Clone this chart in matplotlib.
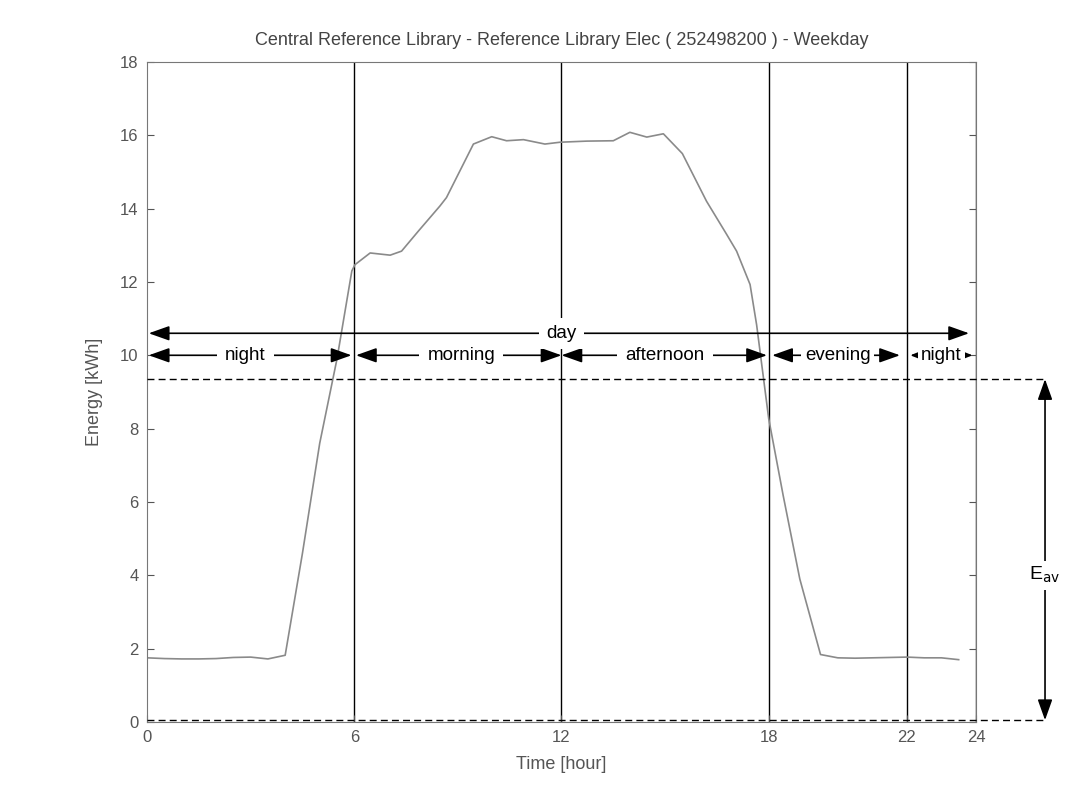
import matplotlib.pyplot as plt

# half-hourly weekday profile
hours = [0, 0.5, 1, 1.5, 2, 2.5, 3, 3.5, 4, 4.5, 5, 5.5, 5.93, 6.02, 6.46, 7.04,
         7.37, 7.86, 8.48, 8.67, 9.45, 9.98, 10.41, 10.9, 11.52, 11.96, 12.73,
         13.5, 13.98, 14.47, 14.95, 15.5, 16.2, 16.78, 17.07, 17.46, 17.65, 18.0,
         18.42, 18.9, 19.5, 20, 20.5, 21, 21.5, 22, 22.5, 23, 23.5]
energy = [1.75, 1.73, 1.72, 1.72, 1.73, 1.76, 1.77, 1.72, 1.82, 4.6, 7.6, 9.9,
          12.3, 12.47, 12.79, 12.73, 12.84, 13.39, 14.07, 14.3, 15.76, 15.96,
          15.85, 15.88, 15.76, 15.81, 15.84, 15.85, 16.08, 15.95, 16.04, 15.5,
          14.2, 13.3, 12.84, 11.93, 10.83, 8.27, 6.17, 3.9, 1.84, 1.75, 1.74,
          1.75, 1.76, 1.77, 1.75, 1.75, 1.7]

E_AV = 9.35
E_ZERO = 0.05
period_edges = [6, 12, 18, 22, 24]
xticks = [0, 6, 12, 18, 22, 24]
yticks = list(range(0, 19, 2))

# (label, start, end, label x)
periods = [("night", 0.05, 5.92, 2.85),
           ("morning", 6.05, 12.0, 9.1),
           ("afternoon", 12.0, 17.95, 15.0),
           ("evening", 18.1, 21.8, 20.0),
           ("night", 22.1, 23.9, 23.0)]
label_gaps = [6, 6, 6, 2.5, 2]

TITLE = "Central Reference Library - Reference Library Elec ( 252498200 ) - Weekday"

plt.rcParams['font.family'] = ['Liberation Sans', 'DejaVu Sans']
GRAY = "#555555"

fig = plt.figure(figsize=(10.7, 8.05), dpi=100)
ax = fig.add_axes([0.1374, 0.1031, 0.7747, 0.82])

ax.plot(hours, energy, color="#8a8a8a", lw=1.2, zorder=2)

for x in period_edges:
    ax.axvline(x, color="black", lw=1.0, zorder=1)

# average and zero reference lines run past the axes to the E_av arrow
for y in (E_AV, E_ZERO):
    ax.plot([0, 26.0], [y, y], color="black", lw=1.0, ls=(0, (5, 3)),
            clip_on=False, zorder=3)

arrow = dict(arrowstyle="<|-|>,head_length=0.9,head_width=0.32",
             color="black", lw=1.2, mutation_scale=14, shrinkA=0, shrinkB=0)
small_arrow = dict(arrow, arrowstyle="<|-|>,head_length=0.45,head_width=0.18")

# whole day
ax.annotate("", xy=(0.05, 10.6), xytext=(23.8, 10.6), arrowprops=arrow,
            annotation_clip=False, zorder=4)
ax.text(12, 10.6, "day", ha="center", va="center", fontsize=13.5, zorder=5,
        bbox=dict(facecolor="white", edgecolor="none", pad=5))

for i, (name, x0, x1, xl) in enumerate(periods):
    props = small_arrow if i == len(periods) - 1 else arrow
    ax.annotate("", xy=(x0, 10.0), xytext=(x1, 10.0), arrowprops=props,
                annotation_clip=False, zorder=4)
    ax.text(xl, 10.0, name, ha="center", va="center", fontsize=13.5, zorder=5,
            bbox=dict(facecolor="white", edgecolor="none", pad=label_gaps[i]))

# E_av marker
ax.annotate("", xy=(26.0, E_AV), xytext=(26.0, E_ZERO), arrowprops=arrow,
            annotation_clip=False, zorder=4)
ax.text(26.0, 4.0, r"E$_{\mathrm{av}}$", ha="center", va="center",
        fontsize=14, bbox=dict(facecolor="white", edgecolor="none", pad=3),
        zorder=5, clip_on=False)

ax.set_xlim(0, 24)
ax.set_ylim(0, 18)
ax.set_xticks(xticks)
ax.set_yticks(yticks)
ax.tick_params(direction="in", length=5, colors=GRAY, labelsize=12,
               top=False, right=True, width=0.8, pad=6)
for side in ax.spines.values():
    side.set_color("#777777")
    side.set_linewidth(0.8)

ax.set_title(TITLE, fontsize=13, color="#444444", pad=12)
ax.set_xlabel("Time [hour]", fontsize=13, color=GRAY, labelpad=8)
ax.set_ylabel("Energy [kWh]", fontsize=13, color=GRAY, labelpad=12)

fig.savefig("out.png", dpi=100)
